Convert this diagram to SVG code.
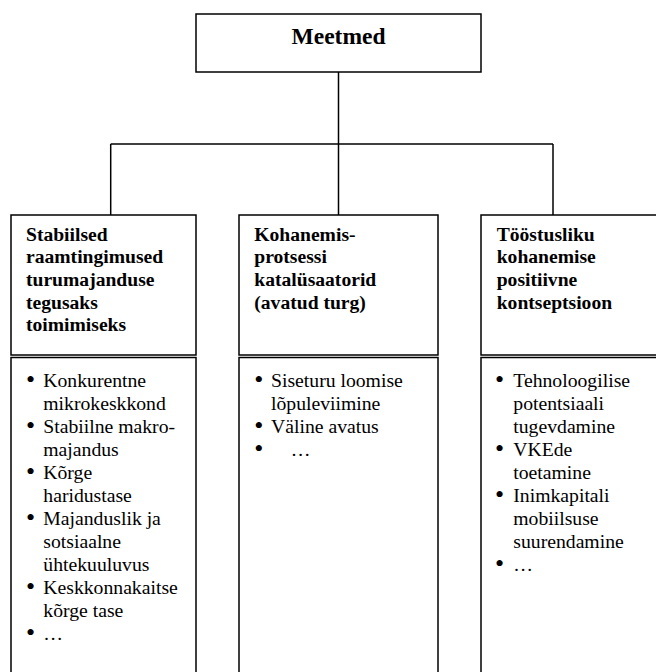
<svg xmlns="http://www.w3.org/2000/svg" width="656" height="672" viewBox="0 0 656 672">
<style>
.box{fill:#fff;stroke:#000;stroke-width:1.5}
.ln{fill:none;stroke:#000;stroke-width:1.5}
.title{font-family:"Liberation Serif","Times New Roman",serif;font-weight:bold;font-size:23.5px;fill:#000}
.hd{font-family:"Liberation Serif","Times New Roman",serif;font-weight:bold;font-size:19.6px;fill:#000}
.bd{font-family:"Liberation Serif","Times New Roman",serif;font-size:19.7px;fill:#000}
.bu{font-family:"Liberation Serif","Times New Roman",serif;font-size:26px;fill:#000}
</style>
<rect width="656" height="672" fill="#fff"/>
<g id="connectors">
<line class="ln" x1="338.5" y1="72" x2="338.5" y2="144"/>
<line class="ln" x1="110.7" y1="144" x2="553" y2="144"/>
<line class="ln" x1="110.7" y1="144" x2="110.7" y2="215"/>
<line class="ln" x1="338.5" y1="144" x2="338.5" y2="215"/>
<line class="ln" x1="553" y1="144" x2="553" y2="215"/>
</g>
<g id="meetmed">
<rect class="box" x="196" y="14" width="285" height="58"/>
<text class="title" x="338.5" y="44" text-anchor="middle">Meetmed</text>
</g>
<g id="stabiilsed">
<rect class="box" x="11" y="215" width="185" height="140"/>
<text class="hd" x="26" y="240.7">Stabiilsed</text>
<text class="hd" x="26" y="263.3">raamtingimused</text>
<text class="hd" x="26" y="286">turumajanduse</text>
<text class="hd" x="26" y="308.5">tegusaks</text>
<text class="hd" x="26" y="331">toimimiseks</text>
</g>
<g id="stabiilsed-list">
<rect class="box" x="11" y="357.5" width="185" height="340"/>
<g class="bu">
<text x="26" y="388">•</text>
<text x="26" y="434">•</text>
<text x="26" y="480">•</text>
<text x="26" y="526">•</text>
<text x="26" y="595">•</text>
<text x="26" y="641">•</text>
</g>
<g class="bd">
<text x="43.3" y="386.5">Konkurentne</text>
<text x="43.3" y="409.5">mikrokeskkond</text>
<text x="43.3" y="432.5">Stabiilne makro-</text>
<text x="43.3" y="455.5">majandus</text>
<text x="43.3" y="478.5">Kõrge</text>
<text x="43.3" y="501.5">haridustase</text>
<text x="43.3" y="524.5">Majanduslik ja</text>
<text x="43.3" y="547.5">sotsiaalne</text>
<text x="43.3" y="570.5">ühtekuuluvus</text>
<text x="43.3" y="593.5">Keskkonnakaitse</text>
<text x="43.3" y="616.5">kõrge tase</text>
<text x="43.3" y="639.5">…</text>
</g>
</g>
<g id="kohanemis">
<rect class="box" x="239" y="215" width="199" height="140"/>
<text class="hd" x="254.3" y="240.7">Kohanemis-</text>
<text class="hd" x="254.3" y="263.3">protsessi</text>
<text class="hd" x="254.3" y="286">katalüsaatorid</text>
<text class="hd" x="254.3" y="308.5">(avatud turg)</text>
</g>
<g id="kohanemis-list">
<rect class="box" x="239" y="357.5" width="199" height="340"/>
<g class="bu">
<text x="254.3" y="388">•</text>
<text x="254.3" y="434">•</text>
<text x="254.3" y="457">•</text>
</g>
<g class="bd">
<text x="271" y="386.5">Siseturu loomise</text>
<text x="271" y="409.5">lõpuleviimine</text>
<text x="271" y="432.5">Väline avatus</text>
<text x="290.7" y="455.5">…</text>
</g>
</g>
<g id="toostusliku">
<rect class="box" x="481" y="215" width="220" height="140"/>
<text class="hd" x="496.7" y="240.7">Tööstusliku</text>
<text class="hd" x="496.7" y="263.3">kohanemise</text>
<text class="hd" x="496.7" y="286">positiivne</text>
<text class="hd" x="496.7" y="308.5">kontseptsioon</text>
</g>
<g id="toostusliku-list">
<rect class="box" x="481" y="357.5" width="220" height="340"/>
<g class="bu">
<text x="495" y="388">•</text>
<text x="495" y="457">•</text>
<text x="495" y="503">•</text>
<text x="495" y="572">•</text>
</g>
<g class="bd">
<text x="513.3" y="386.5">Tehnoloogilise</text>
<text x="513.3" y="409.5">potentsiaali</text>
<text x="513.3" y="432.5">tugevdamine</text>
<text x="513.3" y="455.5">VKEde</text>
<text x="513.3" y="478.5">toetamine</text>
<text x="513.3" y="501.5">Inimkapitali</text>
<text x="513.3" y="524.5">mobiilsuse</text>
<text x="513.3" y="547.5">suurendamine</text>
<text x="513.3" y="570.5">…</text>
</g>
</g>
</svg>
